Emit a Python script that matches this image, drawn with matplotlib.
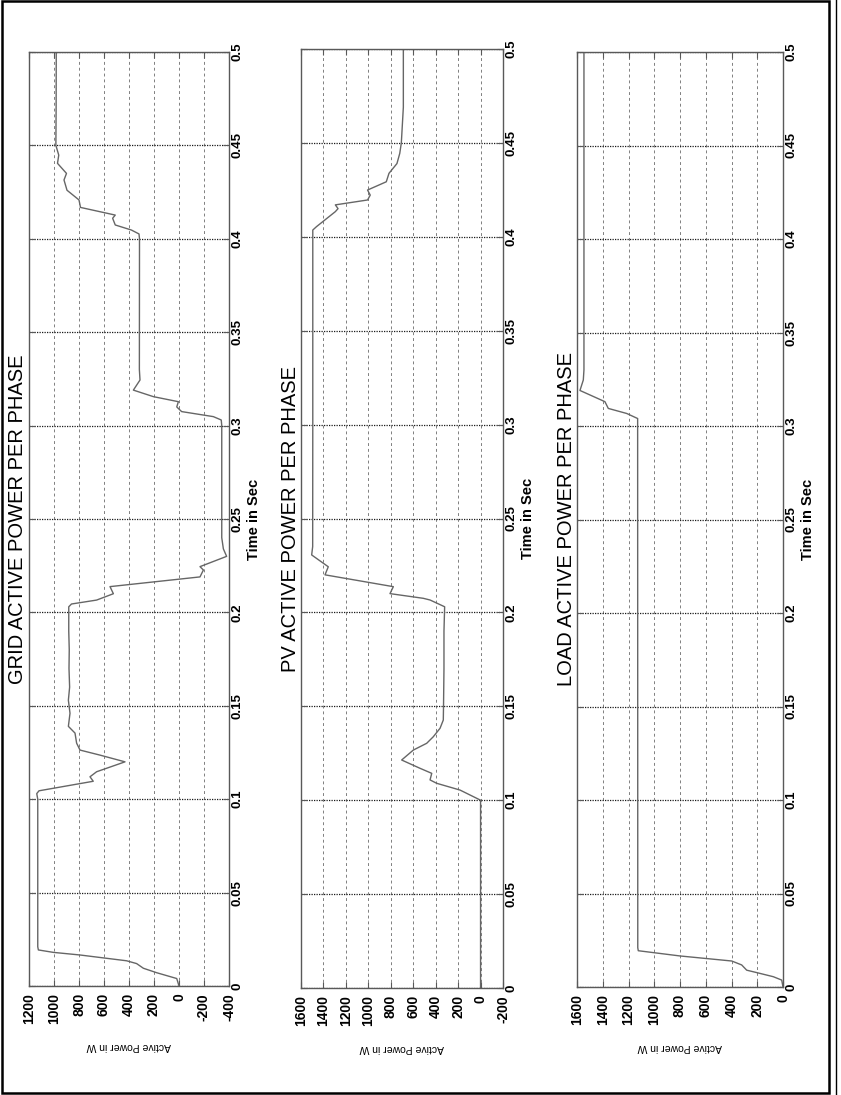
import numpy as np
import matplotlib
matplotlib.use("Agg")
import matplotlib.pyplot as plt
from matplotlib.patches import Rectangle
from matplotlib.lines import Line2D

plt.rcParams['font.family'] = ['Liberation Sans', 'DejaVu Sans']

# --- data (time in s, power in W) ---
grid_t = [0, 0.004, 0.0071, 0.0095, 0.012, 0.0135, 0.0166, 0.018, 0.0193, 0.021,
          0.1, 0.103, 0.1045, 0.1096, 0.112, 0.1147, 0.12, 0.1236, 0.1263, 0.13,
          0.1354, 0.139, 0.146, 0.153, 0.16, 0.17, 0.18, 0.19, 0.203,
          0.2045, 0.2066, 0.21, 0.2138, 0.219, 0.2227, 0.2245, 0.23, 0.234, 0.24,
          0.3, 0.303, 0.3048, 0.3075, 0.31, 0.3128, 0.3155, 0.319, 0.3244, 0.33,
          0.4, 0.4026, 0.4047, 0.4074, 0.411, 0.4127, 0.4168, 0.4208, 0.426,
          0.4315, 0.435, 0.4404, 0.4448, 0.45, 0.47, 0.5]
grid_p = [0, 18, 178, 285, 339, 419, 792, 1005, 1125, 1130,
          1130, 1138, 1120, 686, 712, 659, 432, 632, 792, 819,
          832, 885, 872, 885, 875, 880, 878, 882, 882,
          860, 659, 525, 552, -168, -195, -168, -381, -355, -342,
          -342, -338, -275, -21, 18, 5, 205, 365, 312, 317,
          316, 320, 381, 510, 531, 510, 788, 800, 896,
          920, 900, 972, 962, 985, 983, 982]

pv_t = [0, 0.1, 0.1054, 0.109, 0.1108, 0.1143, 0.117, 0.1214, 0.1267, 0.1303,
        0.1338, 0.1383, 0.1427, 0.15, 0.17, 0.19, 0.203, 0.2066, 0.2075, 0.21,
        0.2137, 0.22, 0.2243, 0.2306, 0.235, 0.3, 0.4, 0.4036, 0.4054, 0.4134,
        0.415, 0.417, 0.4196, 0.4222, 0.4249, 0.4293, 0.4338, 0.439, 0.4444,
        0.45, 0.469, 0.5]
pv_p = [0, 0, 183, 391, 450, 435, 540, 703, 599, 480,
        421, 361, 332, 330, 326, 326, 320, 450, 510, 807,
        777, 1386, 1357, 1505, 1496, 1495, 1495, 1495, 1462, 1294,
        1270, 1294, 1007, 983, 1007, 840, 816, 745, 720,
        706, 688, 688]

load_t = [0, 0.0037, 0.0055, 0.0077, 0.009, 0.0118, 0.0139, 0.0166, 0.0194, 0.021,
          0.304, 0.3067, 0.3094, 0.313, 0.319, 0.3246, 0.33, 0.5]
load_p = [0, 10, 75, 204, 282, 321, 398, 800, 1124, 1128,
          1129, 1214, 1357, 1383, 1577, 1551, 1546, 1546]

titles = ['GRID ACTIVE POWER PER PHASE', 'PV ACTIVE POWER PER PHASE',
          'LOAD ACTIVE POWER PER PHASE']
power_limits = [(1200, -400), (1600, -200), (1600, 0)]
time_ticks = [0, 0.05, 0.1, 0.15, 0.2, 0.25, 0.3, 0.35, 0.4, 0.45, 0.5]

W, H = 841, 1095
fig = plt.figure(figsize=(W / 100, H / 100), dpi=100)

# axes boxes in pixels: left, right, top, bottom
boxes = [(29, 229, 52, 986), (301, 503, 49, 988), (577, 783, 52, 987)]
series = [(grid_t, grid_p), (pv_t, pv_p), (load_t, load_p)]

for (l, r, t, b), (ts, ps), title, lim in zip(boxes, series, titles, power_limits):
    ax = fig.add_axes([l / W, 1 - b / H, (r - l) / W, (b - t) / H])
    ax.plot(ps, ts, color='0.4', lw=1.0)
    ax.set_xlim(lim)
    ax.set_ylim(0, 0.5)
    ticks = np.arange(lim[1], lim[0] + 1, 200)
    ax.set_xticks(ticks)
    ax.set_xticklabels([str(int(v)) for v in ticks],
                       rotation=90, fontsize=10, fontweight='bold')
    ax.set_yticks(time_ticks)
    ax.set_yticklabels([f"{v:g}" for v in time_ticks], rotation=90,
                       fontsize=9.5, fontweight='bold', va='center')
    ax.yaxis.tick_right()
    ax.yaxis.set_label_position('right')
    ax.tick_params(direction='in', length=4, color='0.35', top=True, bottom=True,
                   left=True, right=True, labelleft=False, labelright=True)
    ax.tick_params(axis='x', pad=5)
    ax.tick_params(axis='y', pad=2)
    ax.xaxis.grid(True, ls=(0, (3, 3)), color='0.5', lw=0.7)
    ax.yaxis.grid(True, ls=(0, (1, 1)), color='0.1', lw=0.9)
    for s in ax.spines.values():
        s.set_color('0.35')
        s.set_linewidth(1.0)
    ax.set_ylabel('Time in Sec', rotation=90, fontsize=10.5, fontweight='bold',
                  labelpad=2)
    ax.set_xlabel('Active Power in W', rotation=180, fontsize=7.5, labelpad=12)
    ax.text(-11 / (r - l), 0.5, title, transform=ax.transAxes, rotation=90,
            ha='center', va='center', fontsize=14.5)

# outer frame
fig.add_artist(Rectangle((2 / W, 1 - 1093 / H), 827 / W, 1092 / H,
                         transform=fig.transFigure, fill=False, ec='k', lw=1.8))
fig.add_artist(Line2D([836 / W, 836 / W], [0, 1], transform=fig.transFigure,
                      color='k', lw=1.0))

fig.savefig('out.png', dpi=100)
